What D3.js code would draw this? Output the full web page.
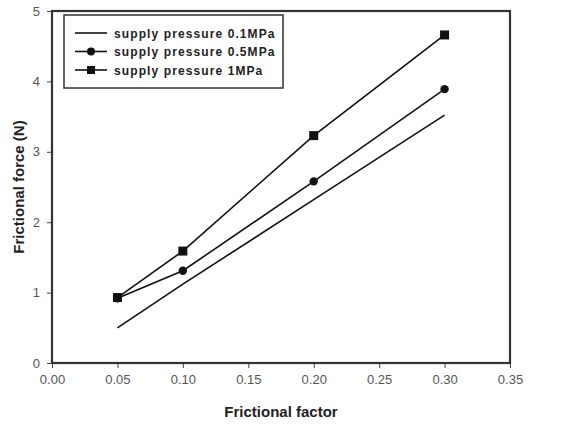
<!DOCTYPE html>
<html>
<head>
<meta charset="utf-8">
<script src="https://cdn.jsdelivr.net/npm/d3@7"></script>
<style>
  body { margin: 0; background: #fff; }
  text { font-family: "Liberation Sans", Arial, sans-serif; }
</style>
</head>
<body>
<div id="chart"></div>
<script>
// Data
var factors = [0.05, 0.10, 0.20, 0.30];
var p01 = [0.50, 1.12, 2.32, 3.52];
var p05 = [0.92, 1.31, 2.58, 3.89];
var p1 = [0.93, 1.59, 3.23, 4.66];
var seriesNames = ["supply pressure 0.1MPa", "supply pressure 0.5MPa", "supply pressure 1MPa"];
var markers = ["none", "circle", "square"];
var xTicks = [0, 0.05, 0.10, 0.15, 0.20, 0.25, 0.30, 0.35];
var yTicks = [0, 1, 2, 3, 4, 5];

var width = 573, height = 424;
var margin = { top: 11, right: 63, bottom: 61, left: 52 };

var svg = d3.select("#chart").append("svg")
  .attr("width", width).attr("height", height);

var x = d3.scaleLinear().domain([0, 0.35]).range([margin.left, width - margin.right]);
var y = d3.scaleLinear().domain([0, 5]).range([height - margin.bottom, margin.top]);

// Axes
var xAxis = d3.axisBottom(x).tickValues(xTicks).tickSize(5).tickPadding(7).tickFormat(d3.format(".2f"));
var yAxis = d3.axisLeft(y).tickValues(yTicks).tickSize(5).tickPadding(7).tickFormat(d3.format("d"));

var gx = svg.append("g").attr("transform", "translate(0," + y(0) + ")").call(xAxis);
var gy = svg.append("g").attr("transform", "translate(" + x(0) + ",0)").call(yAxis);
[gx, gy].forEach(function(g) {
  g.select(".domain").remove();
  g.selectAll("line").attr("stroke", "#444").attr("stroke-width", 1);
  g.selectAll("text").attr("fill", "#555").style("font-size", "13px")
    .style("font-family", "'Liberation Sans Narrow', 'Liberation Sans', Arial, sans-serif");
});

// Frame
svg.append("rect")
  .attr("x", x(0)).attr("y", y(5))
  .attr("width", x(0.35) - x(0)).attr("height", y(0) - y(5))
  .attr("fill", "none").attr("stroke", "#333").attr("stroke-width", 2.2);

// Axis titles
svg.append("text")
  .attr("x", (x(0) + x(0.35)) / 2).attr("y", 417)
  .attr("text-anchor", "middle")
  .style("font-size", "15px").style("font-weight", "bold").attr("fill", "#222")
  .text("Frictional factor");
svg.append("text")
  .attr("transform", "translate(24," + ((y(0) + y(5)) / 2) + ") rotate(-90)")
  .attr("text-anchor", "middle")
  .style("font-size", "15px").style("font-weight", "bold").attr("fill", "#222")
  .text("Frictional force (N)");

// Lines and markers
var allSeries = [p01, p05, p1];
var line = d3.line().x(function(d) { return x(d[0]); }).y(function(d) { return y(d[1]); });

allSeries.forEach(function(vals, i) {
  var pts = factors.map(function(f, j) { return [f, vals[j]]; });
  svg.append("path").datum(pts)
    .attr("d", line).attr("fill", "none")
    .attr("stroke", "#111").attr("stroke-width", 1.6);
  drawMarkers(pts, markers[i]);
});

function drawMarkers(pts, kind) {
  if (kind === "circle") {
    svg.selectAll(null).data(pts).enter().append("circle")
      .attr("cx", function(d) { return x(d[0]); })
      .attr("cy", function(d) { return y(d[1]); })
      .attr("r", 4.2).attr("fill", "#111");
  } else if (kind === "square") {
    svg.selectAll(null).data(pts).enter().append("rect")
      .attr("x", function(d) { return x(d[0]) - 4.5; })
      .attr("y", function(d) { return y(d[1]) - 4.5; })
      .attr("width", 9).attr("height", 9).attr("fill", "#111");
  }
}

// Legend
var legend = svg.append("g");
legend.append("rect")
  .attr("x", 64).attr("y", 15).attr("width", 219).attr("height", 73)
  .attr("fill", "#fff").attr("stroke", "#333").attr("stroke-width", 1.5);

seriesNames.forEach(function(name, i) {
  var ly = 33 + i * 18.5;
  legend.append("line")
    .attr("x1", 75).attr("x2", 107).attr("y1", ly).attr("y2", ly)
    .attr("stroke", "#111").attr("stroke-width", 1.6);
  if (markers[i] === "circle") {
    legend.append("circle").attr("cx", 91).attr("cy", ly).attr("r", 4).attr("fill", "#111");
  } else if (markers[i] === "square") {
    legend.append("rect").attr("x", 87).attr("y", ly - 4).attr("width", 8).attr("height", 8).attr("fill", "#111");
  }
  legend.append("text")
    .attr("x", 114).attr("y", ly + 4.5)
    .style("font-size", "12px").style("font-weight", "bold")
    .style("letter-spacing", "1.1px").attr("fill", "#222")
    .text(name);
});
</script>
</body>
</html>
